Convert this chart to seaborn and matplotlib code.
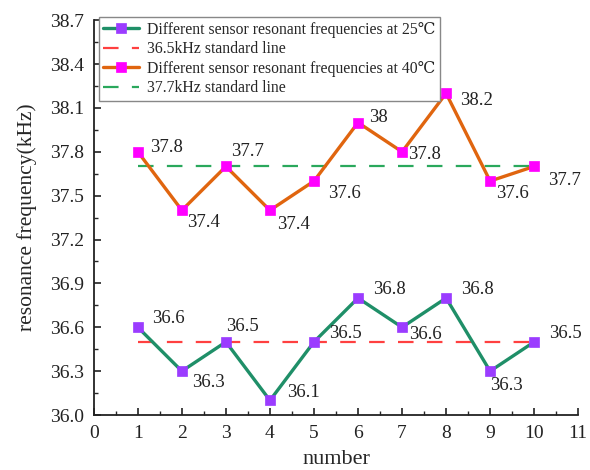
import matplotlib
matplotlib.use("Agg")
import matplotlib.pyplot as plt
import seaborn as sns
import pandas as pd
from matplotlib.ticker import MultipleLocator, FormatStrFormatter

numbers = [1, 2, 3, 4, 5, 6, 7, 8, 9, 10]
freq_25 = [36.6, 36.3, 36.5, 36.1, 36.5, 36.8, 36.6, 36.8, 36.3, 36.5]
freq_40 = [37.8, 37.4, 37.7, 37.4, 37.6, 38.0, 37.8, 38.2, 37.6, 37.7]
std_25 = 36.5
std_40 = 37.7
labels_25 = ["36.6", "36.3", "36.5", "36.1", "36.5", "36.8", "36.6", "36.8", "36.3", "36.5"]
labels_40 = ["37.8", "37.4", "37.7", "37.4", "37.6", "38", "37.8", "38.2", "37.6", "37.7"]
legend_names = ["Different sensor resonant frequencies at 25\u2103",
                "36.5kHz standard line",
                "Different sensor resonant frequencies at 40\u2103",
                "37.7kHz standard line"]

sns.set_theme(style="ticks")
plt.rcParams['font.family'] = ['Liberation Serif', 'DejaVu Serif', 'DejaVu Sans']

fig = plt.figure(figsize=(5.9, 4.7), dpi=100)
ax = fig.add_axes([0.159, 0.117, 0.821, 0.840])

df = pd.DataFrame({"number": numbers, "f25": freq_25, "f40": freq_40,
                   "s25": [std_25] * len(numbers), "s40": [std_40] * len(numbers)})

c25 = "#1f8f68"
c40 = "#e0650f"
sns.lineplot(data=df, x="number", y="f25", ax=ax, color=c25, lw=2.4, marker="s",
             markersize=7, markerfacecolor="#9b3cff", markeredgecolor="#9b3cff",
             markeredgewidth=0.5, label=legend_names[0], zorder=3)
sns.lineplot(data=df, x="number", y="s25", ax=ax, color="#ff4040", lw=1.6,
             label=legend_names[1], zorder=2)
ax.lines[-1].set_linestyle((0, (7, 6)))
sns.lineplot(data=df, x="number", y="f40", ax=ax, color=c40, lw=2.4, marker="s",
             markersize=7, markerfacecolor="#ff00ff", markeredgecolor="#ff00ff",
             markeredgewidth=0.5, label=legend_names[2], zorder=3)
sns.lineplot(data=df, x="number", y="s40", ax=ax, color="#2aa85c", lw=1.6,
             label=legend_names[3], zorder=2)
ax.lines[-1].set_linestyle((0, (7, 6)))

# label offsets in points (dx, dy)
off_25 = [(10, 6), (7, -8), (0, 11), (12, 6), (11, 6), (11, 6), (5, -5), (11, 6), (0, -10), (11, 6)]
off_40 = [(9, 3), (4, -9), (4, 11), (5, -10), (10, -9), (8, 4), (4, -2), (10, -5), (4, -9), (10, -10)]
for x, y, t, (dx, dy) in zip(numbers, freq_25, labels_25, off_25):
    ax.annotate(t, (x, y), xytext=(dx, dy), textcoords="offset points",
                ha="left", va="center", fontsize=13.5, color="#222222")
for x, y, t, (dx, dy) in zip(numbers, freq_40, labels_40, off_40):
    ax.annotate(t, (x, y), xytext=(dx, dy), textcoords="offset points",
                ha="left", va="center", fontsize=13.5, color="#222222")

ax.set_xlim(0, 11)
ax.set_ylim(36.0, 38.7)
ax.xaxis.set_major_locator(MultipleLocator(1))
ax.xaxis.set_minor_locator(MultipleLocator(0.5))
ax.yaxis.set_major_locator(MultipleLocator(0.3))
ax.yaxis.set_minor_locator(MultipleLocator(0.15))
ax.yaxis.set_major_formatter(FormatStrFormatter("%.1f"))
ax.tick_params(which="major", direction="in", length=5, width=1.2, labelsize=14,
               colors="#222222", pad=7)
ax.tick_params(which="minor", direction="in", length=3, width=1.0)
for s in ["top", "right"]:
    ax.spines[s].set_visible(False)
for s in ["left", "bottom"]:
    ax.spines[s].set_linewidth(1.3)
    ax.spines[s].set_color("#222222")

ax.set_xlabel("number", fontsize=16, labelpad=6)
ax.set_ylabel("resonance frequency(kHz)", fontsize=15.5, labelpad=9)

leg = ax.legend(loc="upper left", bbox_to_anchor=(0.0, 1.02), fontsize=11.3,
                frameon=True, fancybox=False, edgecolor="#888888", framealpha=1,
                handlelength=2.3, handletextpad=0.5, borderpad=0.3, labelspacing=0.22,
                borderaxespad=0.3)
leg.get_frame().set_linewidth(1.0)

fig.savefig("out.png", dpi=100)
